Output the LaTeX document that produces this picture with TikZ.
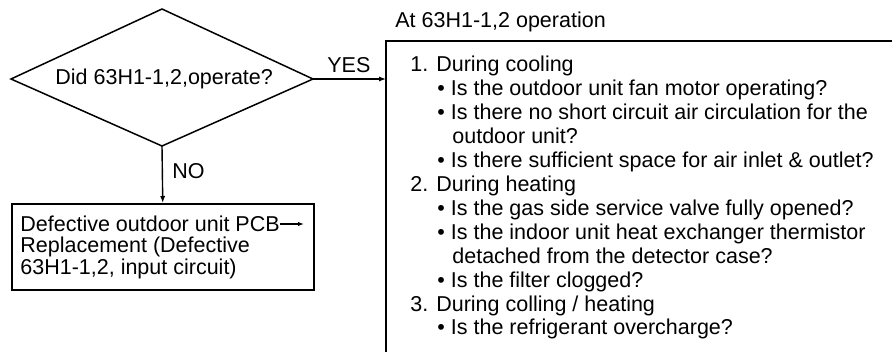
\documentclass[tikz,border=0pt]{standalone}
\usepackage{fontspec}
\setmainfont{Liberation Sans}
\usetikzlibrary{arrows.meta}
\begin{document}
\begin{tikzpicture}[x=0.5pt,y=-0.5pt,
  txt/.style={anchor=base west,inner sep=0pt,font=\fontsize{10.75pt}{12pt}\selectfont},
  line/.style={line width=0.75pt},
  arr/.style={line width=0.7pt,-{Latex[length=3.5pt,width=2.6pt]}},
  boxst/.style={draw,line width=0.75pt,anchor=north west,inner sep=0pt,minimum width=151pt,minimum height=43pt}]
\useasboundingbox (0,0) rectangle (892,352);
% diamond
\coordinate (dt) at (162,9);
\coordinate (dl) at (11,79);
\coordinate (dr) at (313,79);
\coordinate (db) at (162,146);
\draw[line] (dt) -- (dr) -- (db) -- (dl) -- cycle;
\node[txt] (q) at (55,85) {Did 63H1-1,2,operate?};
% right open box
\coordinate (rbtr) at (892,41);
\coordinate (rbtl) at (386,41);
\coordinate (rbbl) at (386,352);
\coordinate (boxin) at (386,79);
\draw[line] (rbtr) -- (rbtl) -- (rbbl);
\node[txt] (hdr) at (395,28) {At 63H1-1,2 operation};
% YES
\draw[arr] (dr) -- (boxin);
\node[txt] (yes) at (327,73) {YES};
% NO
\node[boxst] (fail) at (11,203) {};
\draw[arr] (db) -- (fail.north);
\node[txt] (no) at (172,178) {NO};
\node[txt] (f1) at (20,231) {Defective outdoor unit PCB};
\node[txt] (f2) at (20,252.5) {Replacement (Defective};
\node[txt] (f3) at (20,274) {63H1-1,2, input circuit)};
\coordinate (fa1) at (304,224);
\draw[line width=0.6pt,-{Latex[length=3pt,width=2.2pt]}] (f1.east |- fa1) -- (fa1);
% right texts
\node[txt] (r1) at (410,72) {1. During cooling};
\node[txt] (r2) at (437,95.9) {• Is the outdoor unit fan motor operating?};
\node[txt] (r3) at (437,119.8) {• Is there no short circuit air circulation for the};
\node[txt] (r4) at (452,143.7) {outdoor unit?};
\node[txt] (r5) at (437,167.6) {• Is there sufficient space for air inlet \& outlet?};
\node[txt] (r6) at (410,191.5) {2. During heating};
\node[txt] (r7) at (437,215.4) {• Is the gas side service valve fully opened?};
\node[txt] (r8) at (437,239.3) {• Is the indoor unit heat exchanger thermistor};
\node[txt] (r9) at (452,263.2) {detached from the detector case?};
\node[txt] (r10) at (437,287.1) {• Is the filter clogged?};
\node[txt] (r11) at (410,311) {3. During colling / heating};
\node[txt] (r12) at (437,334.9) {• Is the refrigerant overcharge?};
\end{tikzpicture}
\end{document}
